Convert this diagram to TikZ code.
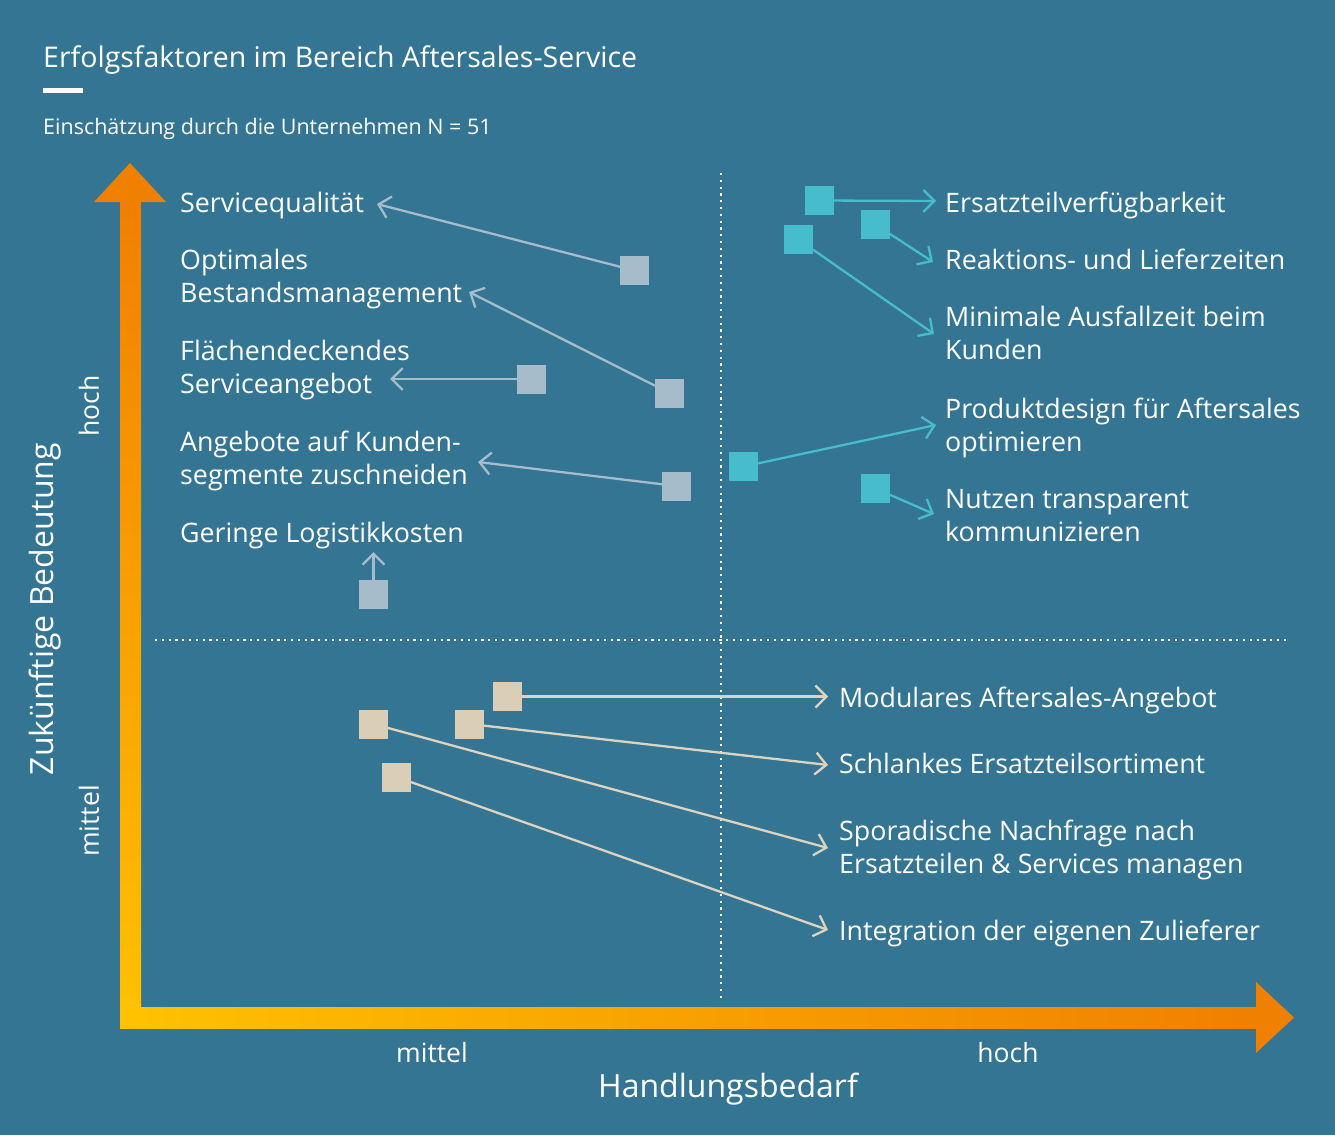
\documentclass[tikz,border=0pt]{standalone}
\usepackage{fontspec}
\setmainfont{Open Sans}
\usetikzlibrary{arrows.meta}
\definecolor{bg}{HTML}{347594}
\definecolor{axorange}{HTML}{F08000}
\definecolor{axyellow}{HTML}{FFC200}
\definecolor{greyblue}{HTML}{A7BCCB}
\definecolor{cyanbox}{HTML}{46BCCD}
\definecolor{beige}{HTML}{DACEB7}
\tikzset{
  lbl/.style={anchor=base west, text=white, inner sep=0pt, align=left,
    font=\fontsize{26.8}{33}\selectfont},
  axlbl/.style={text=white, inner sep=0pt, font=\fontsize{26.5}{30}\selectfont},
  axtitle/.style={text=white, inner sep=0pt, font=\fontsize{32}{36}\selectfont},
  box/.style={minimum size=29pt, inner sep=0pt, outer sep=0pt},
  gbox/.style={box, fill=greyblue},
  cbox/.style={box, fill=cyanbox},
  bbox/.style={box, fill=beige},
  link/.style={line width=2.3pt, -{Straight Barb[length=11pt,width=22pt,line width=2.3pt]}},
  glink/.style={link, draw=greyblue},
  clink/.style={link, draw=cyanbox},
  blink/.style={link, draw=beige!90!white},
  grid/.style={draw=white, line width=2.2pt, dash pattern=on 2.2pt off 4.6pt}
}
\begin{document}
\begin{tikzpicture}[x=1pt,y=-1pt]
% background
\fill[bg] (0,0) rectangle (1335,1135);
\useasboundingbox (0,0) rectangle (1335,1135);

% heading
\node[anchor=base west, text=white, inner sep=0pt, font=\fontsize{28.5}{34}\selectfont] (title) at (43,67) {Erfolgsfaktoren im Bereich Aftersales-Service};
\fill[white] (43,88) rectangle (83,93);
\node[anchor=base west, text=white, inner sep=0pt, font=\fontsize{21.5}{26}\selectfont] (sub) at (43,134) {Einschätzung durch die Unternehmen N = 51};

% quadrant separators
\draw[grid] (721,173) -- (721,1000);
\draw[grid] (155,640) -- (1290,640);

% axes with colour gradient
\shade[top color=axorange, bottom color=axyellow] (120,202) rectangle (141,1028);
\shade[left color=axyellow, right color=axorange] (120,1007) rectangle (1256,1028);
\fill[axorange] (94,202) -- (130,163) -- (166,202) -- cycle;
\fill[axorange] (1256,982) -- (1294,1017.5) -- (1256,1053) -- cycle;

% axis labels
\node[axtitle, rotate=90] (ylab) at (45,609) {Zukünftige Bedeutung};
\node[axlbl, rotate=90] (yhoch) at (89,406) {hoch};
\node[axlbl, rotate=90] (ymittel) at (89,821) {mittel};
\node[axlbl] (xmittel) at (432,1053) {mittel};
\node[axlbl] (xhoch) at (1008,1053) {hoch};
\node[axtitle] (xlab) at (728,1089) {Handlungsbedarf};

% labels, upper left (multi-line labels sit on their last baseline)
\node[lbl] (l1) at (180,212) {Servicequalität};
\node[lbl] (l2) at (180,302) {Optimales\\Bestandsmanagement};
\node[lbl] (l3) at (180,393) {Flächendeckendes\\Serviceangebot};
\node[lbl] (l4) at (180,484) {Angebote auf Kunden-\\segmente zuschneiden};
\node[lbl] (l5) at (180,542) {Geringe Logistikkosten};

% labels, upper right
\node[lbl] (r1) at (945,212) {Ersatzteilverfügbarkeit};
\node[lbl] (r2) at (945,269) {Reaktions- und Lieferzeiten};
\node[lbl] (r3) at (945,359) {Minimale Ausfallzeit beim\\Kunden};
\node[lbl] (r4) at (945,451) {Produktdesign für Aftersales\\optimieren};
\node[lbl] (r5) at (945,541) {Nutzen transparent\\kommunizieren};

% labels, lower half
\node[lbl] (b1) at (839,707) {Modulares Aftersales-Angebot};
\node[lbl] (b2) at (839,773) {Schlankes Ersatzteilsortiment};
\node[lbl] (b3) at (839,873) {Sporadische Nachfrage nach\\Ersatzteilen \& Services managen};
\node[lbl] (b4) at (839,940) {Integration der eigenen Zulieferer};

% arrow tips next to the labels
\coordinate (tl1) at (377,204);
\coordinate (tl2) at (469,292);
\coordinate (tl3) at (390,379);
\coordinate (tl4) at (478,462);
\coordinate (tl5) at (373.5,552);
\coordinate (tr1) at (936,201);
\coordinate (tr2) at (933,262);
\coordinate (tr3) at (934,334);
\coordinate (tr4) at (936,425);
\coordinate (tr5) at (934,514);
\coordinate (tb1) at (828,696.5);
\coordinate (tb2) at (828,765);
\coordinate (tb3) at (828,848);
\coordinate (tb4) at (828,930);

% rating squares
\node[gbox] (s1) at (634.5,270.5) {};
\node[gbox] (s2) at (669.5,393) {};
\node[gbox] (s3) at (531,379) {};
\node[gbox] (s4) at (676.5,486) {};
\node[gbox] (s5) at (373.5,594.5) {};
\node[cbox] (s6) at (819.5,200.5) {};
\node[cbox] (s7) at (875.5,224.5) {};
\node[cbox] (s8) at (798.5,239.5) {};
\node[cbox] (s9) at (743.5,466.5) {};
\node[cbox] (s10) at (875.5,488.5) {};
\node[bbox] (s11) at (507.5,696.5) {};
\node[bbox] (s12) at (469.5,724) {};
\node[bbox] (s13) at (373.5,724) {};
\node[bbox] (s14) at (396.5,777) {};

% connectors
\draw[glink] (s1) -- (tl1);
\draw[glink] (s2) -- (tl2);
\draw[glink] (s3) -- (tl3);
\draw[glink] (s4) -- (tl4);
\draw[glink] (s5) -- (tl5);
\draw[clink] (s6) -- (tr1);
\draw[clink] (s7) -- (tr2);
\draw[clink] (s8) -- (tr3);
\draw[clink] (s9) -- (tr4);
\draw[clink] (s10) -- (tr5);
\draw[blink] (s11) -- (tb1);
\draw[blink] (s12) -- (tb2);
\draw[blink] (s13) -- (tb3);
\draw[blink] (s14) -- (tb4);
\end{tikzpicture}
\end{document}
